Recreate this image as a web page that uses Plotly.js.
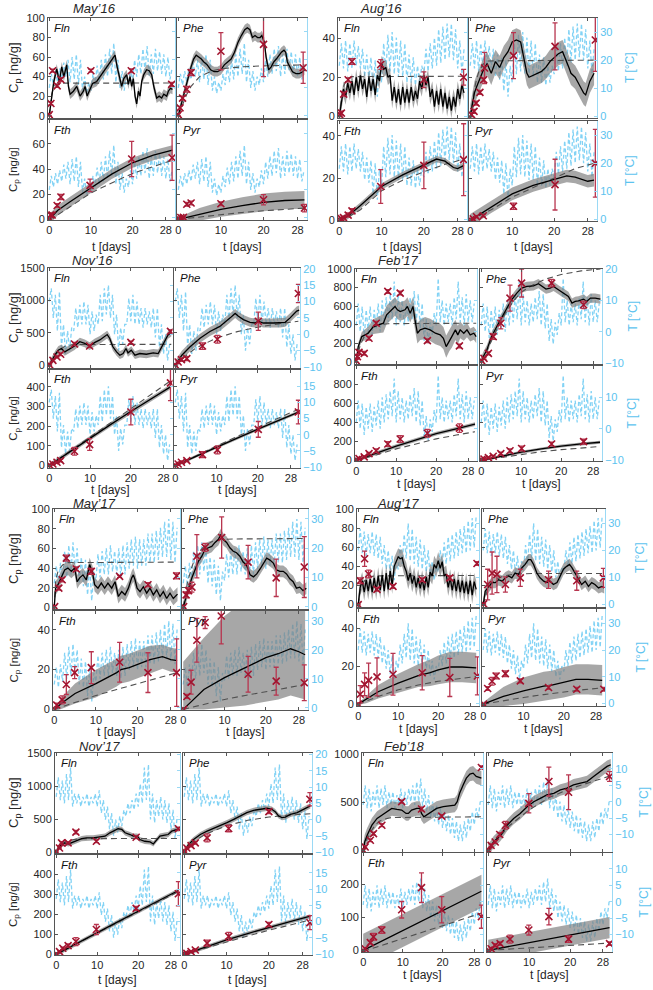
<!DOCTYPE html>
<html><head><meta charset="utf-8">
<script src="https://cdn.plot.ly/plotly-3.0.1.min.js"></script>
<style>html,body{margin:0;padding:0;background:#fff}</style>
</head><body><div id="chart" style="width:653px;height:990px"></div>
<script>
// ---------------- DATA ----------------
const tHalf = [0,0.5,1,1.5,2,2.5,3,3.5,4,4.5,5,5.5,6,6.5,7,7.5,8,8.5,9,9.5,10,10.5,11,11.5,12,12.5,13,13.5,14,14.5,15,15.5,16,16.5,17,17.5,18,18.5,19,19.5,20,20.5,21,21.5,22,22.5,23,23.5,24,24.5,25,25.5,26,26.5,27,27.5,28,28.5,29,29.5];
const xTicks = [0,10,20,28];
const panelNames = ['Fln','Phe','Fth','Pyr'];
const campaigns = ['May’16','Aug’16','Nov’16','Feb’17','May’17','Aug’17','Nov’17','Feb’18'];

// temperature [°C], half-day samples
const may16_T = [10,15,11,16,12,17,13,19,14,20,12,21,13,22,11,20,9,14,8,12,9,15,11,18,12,20,13,22,14,24,15,26,12,20,10,16,9,14,11,17,12,20,14,22,15,24,16,25,14,22,15,24,16,23,15,22,14,21,13,17];
const aug16_T = [18,26,17,27,16,26,17,27,18,25,17,24,14,22,13,21,9,20,7,18,12,26,15,29,16,30,15,28,14,27,14,26,12,22,12,21,11,18,12,18,15,24,16,26,17,28,18,31,19,32,20,33,21,33,20,31,17,27,15,24];
const nov16_T = [10,14,5,12,1,13,-4,3,-6,1,-5,2,1,8,2,9,3,10,3,9,0,7,1,6,3,12,4,14,6,15,5,12,0,6,-5,2,-3,3,3,11,4,12,3,10,3,8,2,8,3,7,2,8,-1,8,-4,3,-6,0,-8,-3];
const feb17_T = [2,9,0,8,-2,7,0,8,-1,7,1,9,0,10,2,11,3,12,4,16,2,12,3,10,2,9,3,11,4,13,2,12,1,9,-3,4,-4,3,-1,6,2,17,3,10,2,9,3,9,2,11,4,16,3,11,2,12,3,10,3,9];
const may17_T = [8,14,7,15,9,19,10,21,11,22,12,20,8,17,7,16,4,14,2,12,9,18,10,19,11,20,11,21,12,19,11,20,10,21,11,22,13,23,14,24,13,23,14,23,14,25,15,25,15,26,16,27,17,29,17,30,16,29,15,27];
const aug17_T = [20,28,19,27,18,26,19,27,18,26,17,25,15,22,13,20,11,18,9,16,13,22,15,26,17,30,16,28,15,25,14,24,13,22,12,20,10,16,9,14,12,20,14,23,15,25,16,26,17,27,18,28,19,29,19,31,20,32,21,33];
const nov17_T = [7,13,6,12,5,14,6,16,4,8,5,8,4,7,5,8,4,7,5,8,4,9,2,6,0,4,-3,2,-5,0,-4,1,-2,3,1,5,2,6,3,8,4,11,5,16,6,17,0,8,-1,6,1,7,0,6,-1,5,-3,3,-6,1];
const feb18_T = [-1,5,-2,4,-3,3,-1,5,-2,4,-1,5,-2,3,-1,3,-2,2,-1,4,-2,3,-1,4,0,5,-1,6,0,7,-2,4,-3,2,-5,0,-6,-1,-7,-2,-8,-3,-9,-4,-10,-5,-11,-6,-12,-7,-12,-6,-11,-5,-9,-3,-7,-2,-5,0];

// ===== May'16 =====
const may16Fln_mt = [0,0.6,1.1,1.8,2.4,3,3.5,4.2,4.6,5,5.8,6.6,7.4,8.2,8.6,9.1,9.8,10.4,11.4,12.2,13,13.8,14.6,15.4,15.8,16.3,17,17.4,17.9,18.6,19,19.4,19.8,20.2,20.6,21,21.4,21.8,22.2,22.7,23.4,24,24.6,25.1,25.8,26.4,27,27.5,28.2,28.6,29.1,29.6];
const may16Fln_m  = [0,20,35,48,35,50,40,52,30,22,25,30,20,25,30,20,28,33,35,40,45,50,55,60,62,50,35,30,38,42,32,40,30,38,20,12,25,20,35,42,47,46,42,30,18,20,18,22,20,25,28,27];
const may16Fln_w  = 5;
const may16Fln_dt = [0,0.3,0.6,1,1.5,2.5,29.6];
const may16Fln_d  = [0,12,22,28,32,33.3,33.4];
const may16Fln_ot = [0,0.4,0.8,1.9,2.8,10,19.7,29.4];
const may16Fln_o  = [1,12.5,46,30.5,37,46,46,32];
const may16Fln_oe = [1,1.5,1.5,1.5,2,1.5,2,2];

const may16Phe_mt = [0,0.6,1.2,1.8,2.4,3,3.6,4.2,4.8,5.4,6,6.8,7.6,8.4,9.2,10,10.8,11.6,12.4,13.2,14,14.8,15.6,16.2,16.8,17.4,18,18.6,19.2,19.6,20.2,20.6,21.2,21.8,22.4,23,23.6,24.2,24.8,25.2,25.6,26.2,26.8,27.6,28.4,29.2,29.6];
const may16Phe_m  = [0,10,22,30,40,50,58,62,60,58,55,52,47,45,45,47,52,55,58,65,75,82,88,90,88,80,82,80,80,82,75,60,47,50,55,58,62,65,67,65,55,50,45,43,43,45,47];
const may16Phe_w  = 5;
const may16Phe_dt = [0,1,2,3,5,8,10,15,20,29.6];
const may16Phe_d  = [0,12,22,30,40,46,48,50,51,52];
const may16Phe_ot = [0,0.4,1,2,3,10,20,29.3];
const may16Phe_o  = [1,8,18,27,44,66,73,49];
const may16Phe_oe = [1,1.5,2,3,3,19,33,16];

const may16Fth_mt = [0,2,5,10,15,20,25,29.6];
const may16Fth_m  = [0,7,14,25,36,45,51,55];
const may16Fth_w  = 4;
const may16Fth_dt = [0,2,5,10,15,20,25,29.6];
const may16Fth_d  = [0,3.5,10,21,29,36.5,42,47];
const may16Fth_ot = [0,0.3,0.7,1.9,2.8,9.8,19.8,29.5];
const may16Fth_o  = [1,3.5,3.5,11,17.8,27,48,49];
const may16Fth_oe = [1,1.5,1.5,1.5,2,5,14,18];

const may16Pyr_mt = [0,2,5,10,15,20,25,29.6];
const may16Pyr_m  = [0,1.5,4,8,11,13.5,15,15.5];
const may16Pyr_w  = [1,3,5,6,6.5,7,7,7];
const may16Pyr_dt = [0,2,5,10,15,20,25,29.6];
const may16Pyr_d  = [0,0.8,2,3.8,5.5,6.8,8,9];
const may16Pyr_ot = [0,0.6,1.2,2,3,10,20,29.6];
const may16Pyr_o  = [1,1.5,1.6,12,13,12.4,15.6,9];
const may16Pyr_oe = [0.5,0.5,0.5,1.5,1.5,1.5,4,3];

// ===== Aug'16 =====
const aug16Fln_m  = [0,8,14,10,17,12,18,11,20,13,21,14,19,10,20,13,19,11,21,18,27,24,25,20,21,8,15,7,14,6,15,7,14,7,15,8,13,9,18,14,21,16,20,10,14,5,13,6,14,5,12,4,10,3,10,5,14,9,16,12];
const aug16Fln_w  = 4;
const aug16Fln_dt = [0,0.3,0.7,1,1.5,2,3,29.5];
const aug16Fln_d  = [0,6,12,15,18,19.5,20.3,20.5];
const aug16Fln_ot = [0.1,0.5,1.05,2.1,3,9.8,20,29.4];
const aug16Fln_o  = [0.9,1.7,11.4,18.7,28,26.5,18.7,20];
const aug16Fln_oe = [1,1,1,1,1.5,2.5,4,4];

const aug16Phe_mt = [0,0.5,1,1.5,2,3,4,5,6,7,8,9,10,11,12,13,13.5,14,15,16,17,18,19,20,21,22,23,23.5,24,25,26,27,27.5,28,28.5,29.5];
const aug16Phe_m  = [0,7,12,15,18,23,27,22,28,25,30,33,38,39,38,28,22,20,21,22,23,25,28,30,32,33,28,25,22,20,16,12,11,14,18,22];
const aug16Phe_w  = 6;
const aug16Phe_dt = [0,0.5,1,1.5,2,3,4,29.5];
const aug16Phe_d  = [0,8,14,19,22.5,26.5,28.3,28.7];
const aug16Phe_ot = [0.3,0.9,1.4,2.3,3.2,3.4,10.3,20.2,29.8];
const aug16Phe_o  = [0.9,2.6,6.8,12.3,18.7,24.7,31,35.7,39];
const aug16Phe_oe = [1,1,1,1,1,8,11.7,12,16];

const aug16Fth_mt = [0,2,5,10,15,20,23,25,27,28,29.5];
const aug16Fth_m  = [0,2,7,16,21.5,26,29,28,25,24.5,26];
const aug16Fth_w  = 1.5;
const aug16Fth_dt = [0,2,5,10,15,20,25,29.5];
const aug16Fth_d  = [0,1.5,5,14,19,23,26.5,29];
const aug16Fth_ot = [0.1,0.5,1,2.1,3,9.8,20,29.4];
const aug16Fth_o  = [0.3,0.8,1.3,2.5,4.5,16,26,28.7];
const aug16Fth_oe = [0.5,0.5,0.5,1,1,8,11,17];

const aug16Pyr_mt = [0,2,5,10,15,20,23,25,28,29.5];
const aug16Pyr_m  = [0,2.5,6.5,12.5,16.5,19.5,21,20.5,18.5,19];
const aug16Pyr_w  = 3;
const aug16Pyr_dt = [0,2,5,10,15,20,25,29.5];
const aug16Pyr_d  = [0,2,5,11,15.5,20,24.5,27];
const aug16Pyr_ot = [0.1,0.7,1.5,3.1,10.3,20.2,29.8];
const aug16Pyr_o  = [0.3,0.7,1.7,2.2,6.7,16.9,27];
const aug16Pyr_oe = [0.5,0.5,0.5,0.5,1.5,12,16];

// ===== Nov'16 =====
const nov16Fln_mt = [0,0.5,1,1.5,2.2,3,3.8,4.6,6.2,7.5,8.7,9.9,11.2,12.4,13.6,14.2,14.8,15.6,16.5,17.3,18.1,18.8,19.3,20.1,21,22.2,23.8,25.5,26.7,27.5,28.3,29.1,29.9];
const nov16Fln_m  = [0,60,110,170,235,261,209,235,298,366,340,298,355,392,444,475,418,287,209,157,183,261,193,235,157,183,172,193,183,277,381,470,507];
const nov16Fln_w  = 60;
const nov16Fln_dt = [0,0.5,1,2,3,4,6,29.9];
const nov16Fln_d  = [0,60,120,200,260,300,322,324];
const nov16Fln_ot = [0.1,0.9,1.9,2.8,6.2,9.9,20,29.7];
const nov16Fln_o  = [10,78,130,172,330,298,355,523];
const nov16Fln_oe = [10,15,15,20,25,20,20,25];

const nov16Phe_mt = [0,0.5,1.6,3.6,6,8.4,10.8,13.3,14.5,15.3,16.5,18.1,19.3,20.1,21.3,23.8,25.4,26.6,27.8,29.4,30];
const nov16Phe_m  = [0,50,157,287,418,523,601,732,800,758,706,664,653,680,653,653,653,664,732,836,852];
const nov16Phe_w  = 70;
const nov16Phe_dt = [0,2,5,10,15,20,25,29.8];
const nov16Phe_d  = [0,120,270,420,520,590,640,680];
const nov16Phe_ot = [0,0.7,1.5,2.8,6.6,10.2,20.1,29.8];
const nov16Phe_o  = [10,52,89,105,298,402,680,1108];
const nov16Phe_oe = [10,20,25,30,50,60,140,140];

const nov16Fth_mt = [0,5,10,15,20,25,29.7];
const nov16Fth_m  = [0,70,140,208,275,340,400];
const nov16Fth_w  = 12;
const nov16Fth_dt = [0,5,10,15,20,25,29.7];
const nov16Fth_d  = [0,72,145,218,290,362,430];
const nov16Fth_ot = [0.1,0.9,1.9,2.8,6.2,9.9,20,29.7];
const nov16Fth_o  = [3,8.5,17,25.5,73,107,272,420];
const nov16Fth_oe = [3,4,5,6,20,30,65,90];

const nov16Pyr_mt = [0,5,10,15,20,25,29.7];
const nov16Pyr_m  = [0,48,95,140,185,230,270];
const nov16Pyr_w  = 8;
const nov16Pyr_dt = [0,5,10,15,20,25,29.7];
const nov16Pyr_d  = [0,50,100,148,195,242,285];
const nov16Pyr_ot = [0,0.7,1.5,2.8,6.6,10.2,20.1,29.8];
const nov16Pyr_o  = [3,8.5,17,25.5,56,80,184,272];
const nov16Pyr_oe = [3,3,4,5,15,20,40,60];

// ===== Feb'17 =====
const feb17Fln_mt = [0,0.5,1.4,2.2,3,4.3,5.5,6.8,7.6,8.5,9.7,10.3,11,12.2,12.8,13.5,14.2,14.7,15.3,16,17.2,18.5,19.8,21,21.8,22.5,23.3,23.9,24.8,25.4,26,26.9,27.7,28.5,29.4,30];
const feb17Fln_m  = [0,162,271,289,307,379,397,415,505,541,596,560,541,560,596,523,596,451,307,343,361,343,307,289,253,162,235,271,343,289,343,307,343,289,307,271];
const feb17Fln_w  = [0,40,50,60,70,80,90,100,100,100,100,100,100,100,100,100,100,110,110,110,120,120,120,120,120,120,120,120,110,100,90,80,80,70,70,70];
const feb17Fln_dt = [0,0.5,1,2,3,4,5,6,8,30];
const feb17Fln_d  = [0,100,180,270,320,360,385,400,410,415];
const feb17Fln_ot = [0,0.3,0.7,2,3.2,5,7.9,11,17.8,25.8];
const feb17Fln_o  = [11,54,101,90,253,415,758,740,227,170];
const feb17Fln_oe = [15,15,20,20,20,20,20,20,20,20];

const feb17Phe_mt = [0,0.5,1.4,2.6,3.9,5.1,6.4,7.6,8.9,10.1,11.4,13.1,14.3,15.2,16.2,17.2,18.1,19.3,20.6,21.8,22.7,23.5,24.3,25.6,26.4,27.3,28.5,29.8];
const feb17Phe_m  = [0,54,126,271,379,469,578,668,740,794,812,819,841,812,783,794,812,776,740,704,632,650,657,675,650,686,686,675];
const feb17Phe_w  = 50;
const feb17Phe_dt = [0,2,4,6,8,10,13,16,20,25,29.8];
const feb17Phe_d  = [0,170,360,520,650,750,830,890,940,980,1000];
const feb17Phe_ot = [0.1,0.7,1.8,3,4.9,7.2,10.1,17.6,25.6];
const feb17Phe_o  = [11,36,90,271,415,686,848,848,614];
const feb17Phe_oe = [10,10,15,30,60,140,150,40,40];

const feb17Fth_mt = [0,5,10,15,20,25,29.7];
const feb17Fth_m  = [0,75,150,215,280,330,380];
const feb17Fth_w  = 20;
const feb17Fth_dt = [0,5,10,15,20,25,29.7];
const feb17Fth_d  = [0,55,120,175,225,265,300];
const feb17Fth_ot = [0.1,0.7,2,3.2,5,7.9,11,17.8,25.8];
const feb17Fth_o  = [7,18,36,71,100,171,224,284,338];
const feb17Fth_oe = [5,8,10,12,20,25,35,40,45];

const feb17Pyr_mt = [0,5,10,15,20,25,29.7];
const feb17Pyr_m  = [0,45,85,120,150,172,190];
const feb17Pyr_w  = 15;
const feb17Pyr_dt = [0,5,10,15,20,25,29.7];
const feb17Pyr_d  = [0,30,60,90,112,130,145];
const feb17Pyr_ot = [0.1,0.7,1.8,3,4.9,7.2,10.1,17.6,25.6];
const feb17Pyr_o  = [7,14,28,43,71,100,124,171,196];
const feb17Pyr_oe = [5,5,8,10,15,20,25,20,25];

// ===== May'17 =====
const may17Fln_mt = [0,0.3,0.9,1.7,2.5,3.3,4.1,4.9,5.5,6.1,6.9,7.7,8.5,9.2,9.7,10.5,11.3,12.1,12.9,13.8,14.6,15.4,16.2,17,17.8,18.6,19,19.4,19.9,20.6,21.4,22.2,23,23.8,24.6,25.4,26.2,27,27.8,28.6,29.6];
const may17Fln_m  = [0,19.5,23,31.5,38,40,36.6,40,26,30,33,28,43.5,35,23,19.5,24.7,19.5,24.7,19.5,26,11,16,12.7,19.5,30,33,28,19.5,16,21,14.4,19.5,12.7,17.8,11,16,9,14.4,9,13.4];
const may17Fln_w  = 7;
const may17Fln_dt = [0,0.3,0.6,1,2,3,29.6];
const may17Fln_d  = [0,25,32,38,43,45.5,46];
const may17Fln_ot = [0.1,1.1,1.9,2.9,5.3,8.9,15.7,22.5,29.4];
const may17Fln_o  = [0.7,19.5,28,50,39,36.6,31.5,23,32];
const may17Fln_oe = [1,2,2,3,2,3,1,2,3];

const may17Phe_mt = [0,0.5,1.3,2.1,2.9,3.7,4.5,5.3,6.1,6.9,7.7,8.5,9.1,9.7,10.5,11.3,12.1,12.9,13.7,14.5,15.3,16.2,17,17.8,18.6,19.4,20.2,21,21.8,22.6,23.4,24.2,25,25.8,26.6,27.4,28.2,29,29.8];
const may17Phe_m  = [0,8.6,19.5,30,38,47,52,59,60.6,62,66,69,74,69,66,60.6,57,55.5,52,46,43,33,31,34,39,45,50,48,45,38,36.6,36.6,34,29,26,19.5,20.5,17,19.5];
const may17Phe_w  = 6;
const may17Phe_dt = [0,1,2,3,5,7,9,12,29.8];
const may17Phe_d  = [0,25,40,52,62,67,69,69.5,70];
const may17Phe_ot = [0.1,0.7,1.3,2.1,3.3,5.3,9.3,15.7,22.5,29.3];
const may17Phe_o  = [0.7,12.7,17,20.5,52,61,71,46,30,41];
const may17Phe_oe = [1,3,3,5,22,4,21,17,19,31];

const may17Fth_mt = [0,2,5,10,15,16,18,20,23,26,28,29.5];
const may17Fth_m  = [0,3.5,8,13,18.5,20,21,22.5,25,26.5,25,24.5];
const may17Fth_w  = [1,3,5,7,7,7,7,7,7,6,6,6];
const may17Fth_dt = [0,5,10,15,20,25,29.5];
const may17Fth_d  = [0,3.5,7,10,13,16,18.5];
const may17Fth_ot = [0.1,0.6,1.9,2.9,4.9,8.9,15.7,22.5,29.4];
const may17Fth_o  = [0,2.2,4.8,12.5,18.5,21,23.7,18.5,18.5];
const may17Fth_oe = [0.5,1,2,5,3,8,10,10,17];

const may17Pyr_mt = [0,5,10,15,17,20,23,26,28,29.5];
const may17Pyr_m  = [0,10,16,21,23,26,28,30.5,29,27.5];
const may17Pyr_lo = [0,0,1,2,3,4,5,7,6,5];
const may17Pyr_hi = [24,36,47,55,58,60,60,60,60,60];
const may17Pyr_dt = [0,5,10,15,20,25,29.5];
const may17Pyr_d  = [0,2.5,5,7,9,11,12.5];
const may17Pyr_ot = [0.1,0.9,1.9,3.3,5.3,9.2,15.7,22.5,29.3];
const may17Pyr_o  = [0,6.5,13.7,34.8,43.7,47,17.7,14.2,13.4];
const may17Pyr_oe = [0.5,1,6,11,3,14,9,7,9];

// ===== Aug'17 =====
const aug17Fln_m  = [0,18,25,13,26,14,27,13,28,14,30,15,31,14,33,16,35,20,40,46,50,48,49,40,35,25,33,22,30,18,28,17,27,15,29,18,34,30,42,38,46,38,45,30,32,18,28,15,27,14,26,13,25,12,24,11,25,10,24,16];
const aug17Fln_w  = 9;
const aug17Fln_dt = [0,0.5,1,2,3,4,29.5];
const aug17Fln_d  = [0,15,22,27,29,30,30.5];
const aug17Fln_ot = [0,0.5,1.6,2.6,4.7,8.7,16,22.9,29.7];
const aug17Fln_o  = [0,25,48,32,16,19,26,28,43];
const aug17Fln_oe = [0.5,3,8,4,2,2,2,2,2];

const aug17Phe_mt = [0,0.5,1.4,2.2,3,3.8,4.7,5.5,6.3,7.1,7.9,8.8,9.6,10.4,11.2,11.8,12.5,13.3,14.1,15,15.8,16.6,17.4,18.3,19.1,19.9,20.7,21.4,22,22.8,23.6,24.4,25.3,26.1,26.9,27.7,28.6,29.4,30];
const aug17Phe_m  = [0,14,19,23,23,26,24.5,28,30,28,33,31.6,38.6,42,47,47,42,33,28,24.5,23,24.5,21,23,30,37,40,42,38.6,33,28,21,24.5,19,23,21,17.5,19,17.5];
const aug17Phe_w  = 6;
const aug17Phe_dt = [0,1,2,3,5,8,12,30];
const aug17Phe_d  = [0,15,22,26,30,32,32.5,32.5];
const aug17Phe_ot = [0.1,1.1,2.2,3.4,5.5,9.2,16.2,23.2,29.8];
const aug17Phe_o  = [0.7,21,33,31.6,21,28,26,25,28];
const aug17Phe_oe = [0.5,16,22,19,8,9,9,10,10];

const aug17Fth_mt = [0,2,5,10,15,18,20,23,26,29.5];
const aug17Fth_m  = [0,2.5,6.5,11,15,16.5,18,19.5,19.5,19];
const aug17Fth_w  = [0.5,2,3.5,5,6,7,7.5,8,8,8];
const aug17Fth_dt = [0,5,10,15,20,25,29.5];
const aug17Fth_d  = [0,4,7.5,10,12,13.5,14.5];
const aug17Fth_ot = [0,0.5,1.6,2.6,4.7,8.7,16,22.9,29.8];
const aug17Fth_o  = [0,5.2,10.4,12.5,14.3,15.7,16.5,14,14.8];
const aug17Fth_oe = [0.3,4.5,6,9,10,11,9,10,10];

const aug17Pyr_mt = [0,5,10,15,17,20,23,26,29.5];
const aug17Pyr_m  = [0,4,7,9.5,10,11.5,13,13,12.5];
const aug17Pyr_w  = [1,5,7,7.5,7.5,8,8,8,8];
const aug17Pyr_dt = [0,5,10,15,20,25,29.5];
const aug17Pyr_d  = [0,1.8,3.5,5,6.5,7.6,8.5];
const aug17Pyr_ot = [0.1,1.1,2.2,3.2,5.5,9.2,16.2,23.2,29.9];
const aug17Pyr_o  = [0,8.2,12,14.8,16,12.2,8.7,7.8,7.8];
const aug17Pyr_oe = [0.3,1,2,1.5,1.5,1,1,1,1];

// ===== Nov'17 =====
const nov17Fln_mt = [0,0.5,1.3,2.1,3,3.8,5,6.2,7.4,9,10.7,11.9,13.1,14.3,15.1,16,16.8,18,18.8,19.8,20.4,21.6,22.9,23.7,24.5,25.3,26.5,27.3,28.2,29.2,30];
const nov17Fln_m  = [0,61,112,138,122,138,173,204,214,214,224,240,291,326,352,342,291,265,240,240,189,163,153,122,189,240,255,265,316,342,352];
const nov17Fln_w  = 40;
const nov17Fln_dt = [0,1,2,3,5,8,30];
const nov17Fln_d  = [0,100,150,175,195,203,205];
const nov17Fln_ot = [0,0.8,1.3,2.9,4.8,9.8,19.5,29.8];
const nov17Fln_o  = [10,61,138,138,301,163,224,352];
const nov17Fln_oe = [10,15,20,15,25,20,20,20];

const nov17Phe_mt = [0,1,2.2,3.8,5.4,7,8.5,10.1,11.7,13.3,14.8,16.4,18,19.6,20.7,21.5,22.3,23.1,23.9,25.1,26.7,28.2,29.8];
const nov17Phe_m  = [0,112,189,265,316,357,393,444,495,546,597,632,648,663,648,612,546,520,530,571,597,648,699];
const nov17Phe_w  = 40;
const nov17Phe_dt = [0,2,5,10,15,20,25,29.8];
const nov17Phe_d  = [0,150,270,400,480,530,560,580];
const nov17Phe_ot = [0.1,0.6,1.6,2.6,5.4,10.5,20,29.7];
const nov17Phe_o  = [10,61,97,138,214,357,612,800];
const nov17Phe_oe = [10,15,20,20,60,50,30,100];

const nov17Fth_mt = [0,5,10,15,20,25,29.8];
const nov17Fth_m  = [0,55,110,162,215,267,318];
const nov17Fth_w  = 10;
const nov17Fth_dt = [0,5,10,15,20,25,29.8];
const nov17Fth_d  = [0,54,108,160,212,262,312];
const nov17Fth_ot = [0,0.8,1.6,2.9,4.8,9.8,19.5,29.8];
const nov17Fth_o  = [3,13.6,30.5,44,64,124,229,302];
const nov17Fth_oe = [3,5,6,8,20,25,10,60];

const nov17Pyr_mt = [0,5,10,15,20,25,29.8];
const nov17Pyr_m  = [0,37,72,104,135,163,190];
const nov17Pyr_w  = 10;
const nov17Pyr_dt = [0,5,10,15,20,25,29.8];
const nov17Pyr_d  = [0,31,62,92,120,146,172];
const nov17Pyr_ot = [0.1,0.6,1.6,2.6,5.4,10.5,20,29.7];
const nov17Pyr_o  = [3,5,13.6,22,56,90,149,158];
const nov17Pyr_oe = [3,3,4,5,15,20,10,35];

// ===== Feb'18 =====
const feb18Fln_mt = [0,0.4,1,2.2,3.5,4.7,6,7.2,8.5,9.7,10.8,11.4,12.2,13.5,14.3,14.7,15.3,16,17.2,18.5,20.2,21.8,23.1,23.7,24.3,25.2,26,26.9,27.7,28.5,29.8];
const feb18Fln_m  = [0,90,157,261,331,366,401,435,425,418,383,383,418,435,435,383,348,366,401,435,453,463,470,505,592,679,749,791,801,767,749];
const feb18Fln_w  = 75;
const feb18Fln_dt = [0,1,2,3,4,5,7,29.8];
const feb18Fln_d  = [0,120,200,260,300,320,340,348];
const feb18Fln_ot = [0,0.5,1.8,2.6,4.7,9.7,14.7,19.8,29.8];
const feb18Fln_o  = [0,35,105,174,261,505,429,355,860];
const feb18Fln_oe = [10,15,15,15,15,15,20,15,15];

const feb18Phe_mt = [0,1.3,3,4.6,6.2,7.8,9.5,11.1,12.7,14.3,16,17.6,19.2,20.8,22.5,24.1,25.7,27.3,29,29.9];
const feb18Phe_m  = [0,87,157,261,331,383,453,505,540,575,592,627,645,679,697,714,766,819,871,888];
const feb18Phe_w  = 60;
const feb18Phe_dt = [0,5,10,15,20,25,29.6];
const feb18Phe_d  = [0,250,420,550,640,710,770];
const feb18Phe_ot = [0.1,0.7,1.7,2.8,4.2,9.9,14.8,19.6,29.6];
const feb18Phe_o  = [0,52,87,164,261,488,714,603,766];
const feb18Phe_oe = [10,15,15,20,40,100,150,180,50];

const feb18Fth_mt = [0,5,10,15,20,25,29.8];
const feb18Fth_m  = [0,30,60,90,120,150,179];
const feb18Fth_w  = 50;
const feb18Fth_dt = [0,5,10,15,20,25,29.8];
const feb18Fth_d  = [-3,16,36,55,75,94,113];
const feb18Fth_ot = [0,0.5,1.8,2.6,4.7,9.7,14.7,19.8,29.8];
const feb18Fth_o  = [0,5,23.6,41,61.5,123,190,123,102];
const feb18Fth_oe = [2,3,5,10,10,25,45,40,35];

const feb18Pyr_mt = [0,5,10,15,20,25,29.6];
const feb18Pyr_m  = [0,12,24,35,47,58,69];
const feb18Pyr_w  = 32;
const feb18Pyr_dt = [0,5,10,15,20,25,29.6];
const feb18Pyr_d  = [0,4,8,11,15,19,22];
const feb18Pyr_ot = [0.1,0.7,1.7,2.9,5.3,9.9,14.8,19.6,29.6];
const feb18Pyr_o  = [0,5,15,20.5,34,61.5,102,34,20.5];
const feb18Pyr_oe = [2,3,5,5,12,15,25,10,5];

// ---------------- TABLES FOR THE LIBRARY ----------------
const P = (mt,m,w,dt,d,ot,o,oe,lo,hi)=>({mt,m,w,dt,d,ot,o,oe,lo,hi});
const GROUPS = [
 {T:may16_T, Tr:[-0.8,35], Tt:[0,10,20,30], Ttb:[0,10,20,30], showT:false, Ctop:[-2.4,100], Cbot:[-0.5,79], Ctt:[0,20,40,60,80,100], Ctb:[0,20,40,60],
  geo:{cl:[48,175],cr:[177,307],rt:[18,118],rb:[120,220]}, title:[94,8], left:true, xt:247,
  panels:[P(may16Fln_mt,may16Fln_m,may16Fln_w,may16Fln_dt,may16Fln_d,may16Fln_ot,may16Fln_o,may16Fln_oe),
          P(may16Phe_mt,may16Phe_m,may16Phe_w,may16Phe_dt,may16Phe_d,may16Phe_ot,may16Phe_o,may16Phe_oe),
          P(may16Fth_mt,may16Fth_m,may16Fth_w,may16Fth_dt,may16Fth_d,may16Fth_ot,may16Fth_o,may16Fth_oe),
          P(may16Pyr_mt,may16Pyr_m,may16Pyr_w,may16Pyr_dt,may16Pyr_d,may16Pyr_ot,may16Pyr_o,may16Pyr_oe)]},
 {T:aug16_T, Tr:[-0.6,35], Tt:[0,10,20,30], Ttb:[0,10,20,30], showT:true, Ctop:[-0.8,50.2], Cbot:[-0.3,47], Ctt:[0,20,40], Ctb:[0,20,40],
  geo:{cl:[338,467],cr:[469,597],rt:[18,118],rb:[121,221]}, title:[381,8], left:false, xt:247, tx:630,
  panels:[P(tHalf,aug16Fln_m,aug16Fln_w,aug16Fln_dt,aug16Fln_d,aug16Fln_ot,aug16Fln_o,aug16Fln_oe),
          P(aug16Phe_mt,aug16Phe_m,aug16Phe_w,aug16Phe_dt,aug16Phe_d,aug16Phe_ot,aug16Phe_o,aug16Phe_oe),
          P(aug16Fth_mt,aug16Fth_m,aug16Fth_w,aug16Fth_dt,aug16Fth_d,aug16Fth_ot,aug16Fth_o,aug16Fth_oe),
          P(aug16Pyr_mt,aug16Pyr_m,aug16Pyr_w,aug16Pyr_dt,aug16Pyr_d,aug16Pyr_ot,aug16Pyr_o,aug16Pyr_oe)]},
 {T:nov16_T, Tr:[-10.3,20.2], Tt:[-10,-5,0,5,10,15,20], Ttb:[-10,-5,0,5,10,15], showT:true, Ctop:[-40,1500], Cbot:[-12,488], Ctt:[0,500,1000,1500], Ctb:[0,100,200,300,400],
  geo:{cl:[48,172.5],cr:[174,300],rt:[268,368],rb:[369.5,468]}, title:[92,260], left:true, xt:490,
  panels:[P(nov16Fln_mt,nov16Fln_m,nov16Fln_w,nov16Fln_dt,nov16Fln_d,nov16Fln_ot,nov16Fln_o,nov16Fln_oe),
          P(nov16Phe_mt,nov16Phe_m,nov16Phe_w,nov16Phe_dt,nov16Phe_d,nov16Phe_ot,nov16Phe_o,nov16Phe_oe),
          P(nov16Fth_mt,nov16Fth_m,nov16Fth_w,nov16Fth_dt,nov16Fth_d,nov16Fth_ot,nov16Fth_o,nov16Fth_oe),
          P(nov16Pyr_mt,nov16Pyr_m,nov16Pyr_w,nov16Pyr_dt,nov16Pyr_d,nov16Pyr_ot,nov16Pyr_o,nov16Pyr_oe)]},
 {T:feb17_T, Tr:[-10.3,20], Tt:[-10,0,10,20], Ttb:[-10,0,10], showT:true, Ctop:[-25,1000], Cbot:[-7,990], Ctt:[0,200,400,600,800,1000], Ctb:[0,200,400,600,800],
  geo:{cl:[355,477],cr:[480,602],rt:[269,364],rb:[366,461]}, title:[398,260], left:false, xt:484, tx:632,
  panels:[P(feb17Fln_mt,feb17Fln_m,feb17Fln_w,feb17Fln_dt,feb17Fln_d,feb17Fln_ot,feb17Fln_o,feb17Fln_oe),
          P(feb17Phe_mt,feb17Phe_m,feb17Phe_w,feb17Phe_dt,feb17Phe_d,feb17Phe_ot,feb17Phe_o,feb17Phe_oe),
          P(feb17Fth_mt,feb17Fth_m,feb17Fth_w,feb17Fth_dt,feb17Fth_d,feb17Fth_ot,feb17Fth_o,feb17Fth_oe),
          P(feb17Pyr_mt,feb17Pyr_m,feb17Pyr_w,feb17Pyr_dt,feb17Pyr_d,feb17Pyr_ot,feb17Pyr_o,feb17Pyr_oe)]},
 {T:may17_T, Tr:[-0.8,33.4], Tt:[0,10,20,30], Ttb:[0,10,20,30], showT:true, Ctop:[-1.7,100], Cbot:[-0.3,49.5], Ctt:[0,20,40,60,80,100], Ctb:[0,20,40],
  geo:{cl:[53,180],cr:[182,308],rt:[509,609],rb:[611,710]}, title:[94,503], left:true, xt:732,
  panels:[P(may17Fln_mt,may17Fln_m,may17Fln_w,may17Fln_dt,may17Fln_d,may17Fln_ot,may17Fln_o,may17Fln_oe),
          P(may17Phe_mt,may17Phe_m,may17Phe_w,may17Phe_dt,may17Phe_d,may17Phe_ot,may17Phe_o,may17Phe_oe),
          P(may17Fth_mt,may17Fth_m,may17Fth_w,may17Fth_dt,may17Fth_d,may17Fth_ot,may17Fth_o,may17Fth_oe),
          P(may17Pyr_mt,may17Pyr_m,null,may17Pyr_dt,may17Pyr_d,may17Pyr_ot,may17Pyr_o,may17Pyr_oe,may17Pyr_lo,may17Pyr_hi)]},
 {T:aug17_T, Tr:[-0.9,35.3], Tt:[0,10,20,30], Ttb:[0,10,20,30], showT:true, Ctop:[-2.5,100], Cbot:[-1,50], Ctt:[0,20,40,60,80,100], Ctb:[0,20,40],
  geo:{cl:[357,479],cr:[482,605],rt:[509,607],rb:[609,706]}, title:[398,503], left:false, xt:729, tx:640,
  panels:[P(tHalf,aug17Fln_m,aug17Fln_w,aug17Fln_dt,aug17Fln_d,aug17Fln_ot,aug17Fln_o,aug17Fln_oe),
          P(aug17Phe_mt,aug17Phe_m,aug17Phe_w,aug17Phe_dt,aug17Phe_d,aug17Phe_ot,aug17Phe_o,aug17Phe_oe),
          P(aug17Fth_mt,aug17Fth_m,aug17Fth_w,aug17Fth_dt,aug17Fth_d,aug17Fth_ot,aug17Fth_o,aug17Fth_oe),
          P(aug17Pyr_mt,aug17Pyr_m,aug17Pyr_w,aug17Pyr_dt,aug17Pyr_d,aug17Pyr_ot,aug17Pyr_o,aug17Pyr_oe)]},
 {T:nov17_T, Tr:[-10.3,20.5], Tt:[-10,-5,0,5,10,15,20], Ttb:[-10,-5,0,5,10,15], showT:true, Ctop:[-15,1500], Cbot:[-3,495], Ctt:[0,500,1000,1500], Ctb:[0,100,200,300,400],
  geo:{cl:[55,180],cr:[183,312],rt:[753,853],rb:[855,955]}, title:[100,746], left:true, xt:980,
  panels:[P(nov17Fln_mt,nov17Fln_m,nov17Fln_w,nov17Fln_dt,nov17Fln_d,nov17Fln_ot,nov17Fln_o,nov17Fln_oe),
          P(nov17Phe_mt,nov17Phe_m,nov17Phe_w,nov17Phe_dt,nov17Phe_d,nov17Phe_ot,nov17Phe_o,nov17Phe_oe),
          P(nov17Fth_mt,nov17Fth_m,nov17Fth_w,nov17Fth_dt,nov17Fth_d,nov17Fth_ot,nov17Fth_o,nov17Fth_oe),
          P(nov17Pyr_mt,nov17Pyr_m,nov17Pyr_w,nov17Pyr_dt,nov17Pyr_d,nov17Pyr_ot,nov17Pyr_o,nov17Pyr_oe)]},
 {T:feb18_T, Tr:[-15.3,14.8], Tt:[-10,-5,0,5,10], Ttb:[-10,-5,0,5,10], showT:true, Ctop:[-17,1010], Cbot:[-5,295], Ctt:[0,500,1000], Ctb:[0,100,200],
  geo:{cl:[362,483],cr:[487,612],rt:[753,852],rb:[853,952]}, title:[404,746], left:false, xt:975, tx:643,
  panels:[P(feb18Fln_mt,feb18Fln_m,feb18Fln_w,feb18Fln_dt,feb18Fln_d,feb18Fln_ot,feb18Fln_o,feb18Fln_oe),
          P(feb18Phe_mt,feb18Phe_m,feb18Phe_w,feb18Phe_dt,feb18Phe_d,feb18Phe_ot,feb18Phe_o,feb18Phe_oe),
          P(feb18Fth_mt,feb18Fth_m,feb18Fth_w,feb18Fth_dt,feb18Fth_d,feb18Fth_ot,feb18Fth_o,feb18Fth_oe),
          P(feb18Pyr_mt,feb18Pyr_m,feb18Pyr_w,feb18Pyr_dt,feb18Pyr_d,feb18Pyr_ot,feb18Pyr_o,feb18Pyr_oe)]}
];

// ---------------- BUILD ----------------
const W = 653, H = 990;
const FONT = 'Liberation Sans, Arial, Helvetica, sans-serif';
const AX = '#555555', TXT = '#262626';
const TDASH = '#83d3f5', TLAB = '#5cc3ef', TSPINE = '#9ad9f5';
const RED = '#a2142f', REDBAR = '#b8354f';
const traces = [];
const layout = {width:W, height:H, margin:{l:0,r:0,t:0,b:0}, showlegend:false,
  paper_bgcolor:'#fff', plot_bgcolor:'#fff', font:{family:FONT, size:11, color:TXT}, annotations:[]};

let idx = 0;
GROUPS.forEach((g, gi) => {
  g.panels.forEach((p, pi) => {
    const i = ++idx;
    const isRightCol = (pi % 2) === 1, isBottom = pi >= 2;
    const xs = isRightCol ? g.geo.cr : g.geo.cl;
    const ys = isBottom ? g.geo.rb : g.geo.rt;
    const xa = 'x' + i, yT = 'y' + i, yC = 'y' + (i + 32);
    layout['xaxis' + i] = {domain:[xs[0]/W, xs[1]/W], anchor:yT, range:[-0.3,30.2], tickvals:xTicks,
      ticks:'inside', ticklen:3, tickcolor:AX, showline:true, linecolor:AX, linewidth:1, mirror:'ticks',
      showgrid:false, zeroline:false, showticklabels:isBottom, tickfont:{size:11, color:TXT}, fixedrange:true};
    layout['yaxis' + i] = {domain:[1 - ys[1]/H, 1 - ys[0]/H], anchor:xa, side:'right', range:g.Tr,
      tickvals:isBottom ? g.Ttb : g.Tt,
      ticks:'inside', ticklen:3, tickcolor:TSPINE, showline:true, linecolor:TSPINE, linewidth:1,
      showgrid:false, zeroline:false, showticklabels:isRightCol && g.showT, tickfont:{size:11, color:TLAB}, fixedrange:true};
    layout['yaxis' + (i + 32)] = {overlaying:yT, anchor:xa, side:'left', range:isBottom ? g.Cbot : g.Ctop,
      tickvals:isBottom ? g.Ctb : g.Ctt, ticks:'inside', ticklen:3, tickcolor:AX, showline:true, linecolor:AX, linewidth:1,
      showgrid:false, zeroline:false, showticklabels:!isRightCol, tickfont:{size:11, color:TXT}, fixedrange:true};

    // temperature (right axis)
    traces.push({x:tHalf, y:g.T, xaxis:xa, yaxis:yT, mode:'lines', hoverinfo:'skip',
      line:{color:TDASH, width:1.3, dash:'4px,2.5px'}});
    // uncertainty band
    let lo, hi;
    if (p.lo) { lo = p.lo; hi = p.hi; }
    else {
      const wv = k => Array.isArray(p.w) ? p.w[k] : p.w;
      lo = p.m.map((v, k) => v - wv(k));
      hi = p.m.map((v, k) => v + wv(k));
    }
    traces.push({x:p.mt.concat(p.mt.slice().reverse()), y:hi.concat(lo.slice().reverse()), xaxis:xa, yaxis:yC,
      mode:'lines', fill:'toself', fillcolor:'rgba(125,125,125,0.68)', line:{width:0}, hoverinfo:'skip'});
    // equilibrium (dashed)
    traces.push({x:p.dt, y:p.d, xaxis:xa, yaxis:yC, mode:'lines', line:{color:'#505050', width:1.1, dash:'6px,4px'}, hoverinfo:'skip'});
    // model
    traces.push({x:p.mt, y:p.m, xaxis:xa, yaxis:yC, mode:'lines', line:{color:'#000', width:1.3}});
    // observations
    traces.push({x:p.ot, y:p.o, xaxis:xa, yaxis:yC, mode:'markers',
      marker:{symbol:'x-thin-open', size:7, color:RED, line:{color:RED, width:1.6}},
      error_y:{type:'data', array:p.oe, visible:true, color:REDBAR, thickness:1.3, width:2.5}});

    // panel label
    layout.annotations.push({xref:'paper', yref:'paper', x:(xs[0] + 4)/W, y:1 - (ys[0] + 10)/H,
      xanchor:'left', yanchor:'middle', showarrow:false, text:'<i>' + panelNames[pi] + '</i>',
      font:{size:11.5, color:'#111'}});
    // axis titles
    if (isBottom) layout.annotations.push({xref:'paper', yref:'paper', x:(xs[0] + xs[1])/2/W, y:1 - g.xt/H,
      xanchor:'center', yanchor:'middle', showarrow:false, text:'t [days]', font:{size:12, color:TXT}});
    if (g.left && !isRightCol) layout.annotations.push({xref:'paper', yref:'paper', x:14/W, y:1 - (ys[0] + ys[1])/2/H,
      xanchor:'center', yanchor:'middle', showarrow:false, textangle:-90, text:'C<sub>p</sub> [ng/g]',
      font:{size:isBottom ? 11.5 : 13, color:TXT}});
    if (!g.left && isRightCol) layout.annotations.push({xref:'paper', yref:'paper', x:g.tx/W, y:1 - (ys[0] + ys[1])/2/H,
      xanchor:'center', yanchor:'middle', showarrow:false, textangle:-90, text:'T [°C]',
      font:{size:12, color:TLAB}});
  });
  layout.annotations.push({xref:'paper', yref:'paper', x:g.title[0]/W, y:1 - g.title[1]/H, xanchor:'center', yanchor:'middle',
    showarrow:false, text:'<i>' + campaigns[gi] + '</i>', font:{size:13, color:TXT}});
});

Plotly.newPlot('chart', traces, layout, {staticPlot:true, displayModeBar:false});
</script>
</body></html>
